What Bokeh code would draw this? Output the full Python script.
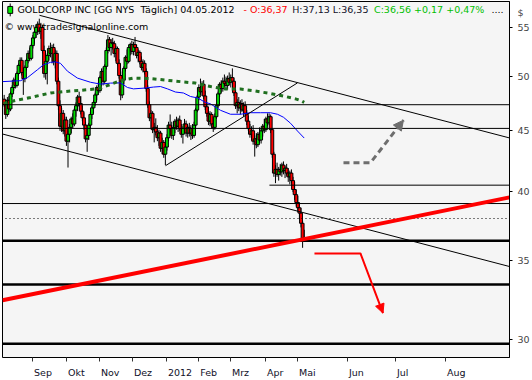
import math
from bokeh.plotting import figure
from bokeh.models import (Range1d, FixedTicker, CustomJSTickFormatter, Label, Arrow,
                          NormalHead, ColumnDataSource, AllLabels)
from bokeh.embed import file_html
from bokeh.resources import INLINE

# ---------------- data ----------------
# daily bars, index 0 = first visible bar (early Aug 2011), last = 04.05.2012
open_ = [47.85, 47.35, 46.45, 47.75, 46.95, 48.35, 48.95, 49.65, 49.15, 50.3,
         51.1, 51.6, 50.4, 49.8, 50.9, 51.6, 52.3, 51.8, 53.1, 53.9,
         54.5, 55.0, 55.35, 54.6, 55.0, 52.6, 50.3, 51.5, 52.1, 52.8,
         52.3, 52.9, 51.5, 52.3, 49.55, 47.25, 45.4, 46.55, 45.0, 45.95,
         44.1, 44.7, 45.3, 46.05, 45.6, 46.85, 47.25, 48.05, 47.45, 46.75,
         46.15, 45.5, 44.3, 44.6, 45.5, 46.45, 47.05, 47.55, 48.25, 48.95,
         48.65, 49.9, 50.5, 49.55, 51.0, 52.6, 53.7, 52.9, 53.4, 53.3,
         52.3, 52.8, 51.3, 50.1, 48.25, 49.65, 50.8, 51.9, 51.5, 52.9,
         53.2, 52.5, 53.2, 52.9, 52.1, 52.4, 51.5, 50.9, 51.3, 50.5,
         48.85, 47.35, 46.15, 46.55, 45.1, 45.3, 44.9, 44.4, 44.8, 43.5,
         44.0, 43.0, 43.6, 44.4, 45.5, 45.2, 44.6, 45.3, 45.85, 45.4,
         45.95, 45.2, 44.7, 45.2, 45.6, 44.8, 45.3, 44.8, 45.2, 44.6,
         45.5, 46.85, 48.05, 48.95, 48.55, 49.25, 48.15, 47.15, 46.55, 45.85,
         46.45, 45.6, 45.3, 46.25, 47.25, 48.35, 49.25, 48.85, 49.55, 49.35,
         49.15, 49.8, 49.45, 49.9, 49.55, 48.45, 47.25, 47.55, 47.05, 47.45,
         46.85, 47.25, 46.55, 45.85, 45.2, 44.7, 45.0, 44.1, 44.3, 43.8,
         44.7, 44.2, 45.0, 45.4, 45.1, 46.05, 45.7, 46.25, 45.1, 43.0,
         41.45, 41.75, 41.35, 41.75, 41.55, 42.1, 41.65, 41.85, 41.45, 41.15,
         41.45, 40.85, 40.15, 39.75, 39.15, 38.75, 38.35, 37.6, 36.37]
high_ = [48.25, 47.75, 48.05, 48.15, 48.55, 49.15, 49.9, 50.1, 50.5, 51.3,
         51.9, 51.9, 50.8, 51.1, 51.8, 52.6, 52.9, 53.3, 54.2, 54.8,
         55.35, 55.65, 55.95, 55.5, 55.3, 53.1, 51.8, 52.3, 53.1, 53.4,
         53.2, 53.3, 52.7, 52.6, 49.9, 47.75, 47.05, 46.85, 46.25, 46.25,
         45.0, 45.6, 46.25, 46.55, 47.05, 47.55, 48.25, 48.55, 48.15, 47.25,
         46.65, 45.8, 44.8, 45.7, 46.65, 47.25, 47.75, 48.45, 49.15, 49.45,
         50.1, 50.8, 50.9, 51.2, 52.9, 54.2, 54.0, 53.8, 53.9, 53.6,
         53.1, 53.0, 51.7, 50.5, 49.9, 51.0, 52.1, 52.7, 53.2, 53.4,
         53.6, 53.5, 54.0, 53.2, 52.7, 52.6, 52.0, 51.7, 51.6, 50.8,
         49.15, 47.65, 46.85, 46.75, 45.7, 46.1, 45.5, 45.1, 45.0, 44.4,
         44.2, 43.8, 44.7, 45.8, 46.45, 45.8, 45.5, 46.05, 46.25, 46.15,
         46.35, 45.6, 45.4, 46.05, 45.9, 45.5, 45.7, 45.5, 45.6, 45.8,
         47.05, 48.25, 49.25, 49.8, 49.55, 49.65, 48.65, 47.55, 47.15, 46.75,
         46.65, 46.0, 46.55, 47.45, 48.55, 49.45, 49.65, 49.9, 50.2, 50.0,
         50.1, 50.4, 50.2, 50.8, 49.9, 48.75, 47.85, 48.05, 47.75, 47.85,
         47.55, 47.65, 46.85, 46.35, 45.6, 45.4, 45.5, 44.6, 44.8, 44.9,
         45.3, 45.2, 45.6, 46.05, 46.25, 46.55, 46.55, 46.45, 45.2, 43.2,
         42.1, 42.3, 41.95, 42.2, 42.3, 42.4, 42.05, 42.2, 41.85, 41.65,
         41.75, 41.15, 40.75, 40.15, 39.65, 39.15, 38.75, 37.8, 37.13]
low_ = [47.15, 46.05, 46.25, 46.65, 46.75, 48.05, 48.65, 48.85, 48.95, 50.1,
        50.5, 50.1, 48.25, 49.45, 50.6, 51.3, 51.5, 51.6, 52.8, 53.3,
        53.9, 54.2, 54.3, 53.8, 52.3, 49.9, 49.7, 49.25, 51.6, 51.9,
        51.3, 51.1, 50.8, 49.25, 46.85, 45.0, 44.9, 44.7, 44.5, 43.7,
        41.9, 44.0, 44.8, 45.2, 45.4, 46.25, 46.75, 47.15, 46.45, 45.85,
        45.1, 44.0, 43.2, 44.2, 45.2, 46.05, 46.55, 47.25, 47.75, 48.25,
        48.45, 49.25, 49.15, 49.25, 50.7, 52.3, 52.5, 52.1, 52.7, 51.9,
        51.5, 51.1, 49.8, 47.75, 47.95, 49.25, 50.5, 51.2, 51.3, 52.1,
        52.2, 52.1, 52.6, 51.8, 51.4, 51.2, 50.6, 50.4, 50.2, 48.55,
        47.05, 45.85, 45.2, 44.8, 44.0, 44.6, 44.1, 43.7, 43.2, 43.0,
        42.7, 42.1, 43.3, 44.1, 44.9, 44.3, 44.2, 44.8, 45.1, 44.9,
        45.0, 44.4, 43.9, 44.8, 44.5, 44.4, 44.5, 44.2, 44.3, 44.4,
        45.3, 46.65, 47.75, 48.25, 48.15, 47.85, 46.85, 46.25, 45.5, 45.4,
        45.2, 44.9, 45.1, 46.05, 47.05, 48.05, 48.45, 48.55, 49.05, 48.85,
        48.75, 49.15, 48.95, 49.25, 48.15, 46.95, 46.55, 46.75, 46.45, 46.65,
        46.25, 46.35, 45.5, 45.0, 44.4, 44.2, 43.8, 42.8, 43.5, 43.6,
        44.0, 43.9, 44.5, 44.8, 44.9, 45.4, 45.5, 44.8, 42.7, 41.15,
        40.65, 41.15, 40.85, 41.25, 41.15, 41.35, 41.05, 41.25, 40.75, 40.55,
        40.65, 39.95, 39.35, 38.85, 38.45, 37.9, 37.3, 35.85, 36.35]
close_ = [47.35, 46.45, 47.75, 46.95, 48.35, 48.95, 49.65, 49.15, 50.3, 51.1,
          51.6, 50.4, 49.8, 50.9, 51.6, 52.3, 51.8, 53.1, 53.9, 54.5,
          55.0, 55.35, 54.6, 55.0, 52.6, 50.3, 51.5, 52.1, 52.8, 52.3,
          52.9, 51.5, 52.3, 49.55, 47.25, 45.4, 46.55, 45.0, 45.95, 44.1,
          44.7, 45.3, 46.05, 45.6, 46.85, 47.25, 48.05, 47.45, 46.75, 46.15,
          45.5, 44.3, 44.6, 45.5, 46.45, 47.05, 47.55, 48.25, 48.95, 48.65,
          49.9, 50.5, 49.55, 51.0, 52.6, 53.7, 52.9, 53.4, 53.3, 52.3,
          52.8, 51.3, 50.1, 48.25, 49.65, 50.8, 51.9, 51.5, 52.9, 53.2,
          52.5, 53.2, 52.9, 52.1, 52.4, 51.5, 50.9, 51.3, 50.5, 48.85,
          47.35, 46.15, 46.55, 45.1, 45.3, 44.9, 44.4, 44.8, 43.5, 44.0,
          43.0, 43.6, 44.4, 45.5, 45.2, 44.6, 45.3, 45.85, 45.4, 45.95,
          45.2, 44.7, 45.2, 45.6, 44.8, 45.3, 44.8, 45.2, 44.6, 45.5,
          46.85, 48.05, 48.95, 48.55, 49.25, 48.15, 47.15, 46.55, 45.85, 46.45,
          45.6, 45.3, 46.25, 47.25, 48.35, 49.25, 48.85, 49.55, 49.35, 49.15,
          49.8, 49.45, 49.9, 49.55, 48.45, 47.25, 47.55, 47.05, 47.45, 46.85,
          47.25, 46.55, 45.85, 45.2, 44.7, 45.0, 44.1, 44.3, 43.8, 44.7,
          44.2, 45.0, 45.4, 45.1, 46.05, 45.7, 46.25, 45.1, 43.0, 41.45,
          41.75, 41.35, 41.75, 41.55, 42.1, 41.65, 41.85, 41.45, 41.15, 41.45,
          40.85, 40.15, 39.75, 39.15, 38.75, 38.35, 37.6, 36.39, 36.56]

# moving averages (bar position, price)
blue_ma_x = [-1.05, 10.23, 14.61, 20.88, 24.64, 29.03, 32.16, 35.29, 39.68, 45.94,
             54.09, 60.35, 66.62, 72.88, 77.27, 81.03, 88.55, 93.56, 97.95, 102.33,
             107.35, 112.36, 116.75, 121.13, 126.15, 129.28, 135.55, 141.81, 148.08,
             154.34, 160.61, 166.87, 171.26, 175.02, 179.4, 183.79, 188.0]
blue_ma_y = [49.51, 49.60, 49.90, 50.67, 51.16, 51.40, 51.45, 51.30, 50.52, 49.85,
             49.45, 49.27, 49.37, 49.39, 48.95, 48.82, 48.90, 48.99, 49.04, 48.82,
             48.52, 48.43, 48.10, 47.97, 47.55, 47.42, 46.83, 46.47, 46.47,
             46.61, 46.61, 46.61, 46.47, 46.20, 45.67, 44.98, 44.37]
green_ma_x = [-0.42, 7.10, 16.49, 29.03, 41.56, 54.09, 60.35, 66.62, 72.88, 81.03,
              91.68, 101.07, 110.47, 119.87, 129.28, 138.67, 148.08, 157.48, 166.87,
              176.27, 182.53, 185.66, 188.0]
green_ma_y = [47.46, 47.74, 48.01, 48.43, 48.61, 48.76, 48.90, 49.23, 49.61, 49.85,
              49.80, 49.66, 49.51, 49.37, 49.04, 48.80, 48.80, 48.61, 48.38,
              48.10, 47.88, 47.74, 47.55]

# horizontal levels
levels_thin = [47.34, 45.21, 39.07]
levels_thick = [36.35, 33.39, 29.76]
levels_dotted = [37.95]
level_partial = [40.49]
level_partial_start = [166.2]

# trend lines (start bar, start price, end bar, end price)
trend_x0 = [22.13, -1.05, 101.08]
trend_y0 = [56.32, 44.72, 42.05]
trend_x1 = [316.64, 316.64, 183.79]
trend_y1 = [44.38, 34.57, 49.39]
support_x = [-1.05, 316.64]
support_y = [32.38, 39.54]

# scenario arrows
red_arrow_x = [194.43, 223.26, 237.36]
red_arrow_y = [35.46, 35.46, 31.58]
grey_arrow_x = [212.61, 229.53, 250.2]
grey_arrow_y = [42.29, 42.29, 45.94]

# axes
y_ticks = [30, 35, 40, 45, 50, 55]
y_unit_label = "$"
y_unit_pos = 56.6
month_ticks = [17.75, 39.05, 59.72, 80.4, 101.7, 121.75, 141.8, 163.7, 183.8, 215.1, 245.2, 276.5]
month_labels = ["Sep", "Okt", "Nov", "Dez", "2012", "Feb", "Mrz", "Apr", "Mai", "Jun", "Jul", "Aug"]

# ---------------- figure ----------------
X0, X1 = -1.05, 316.64
Y0, Y1 = 28.97, 57.85
FONT = "DejaVu Sans"
PX_PER_UNIT = 507.0 / (X1 - X0)


def sx(px):
    return X0 + (px - 2.0) / PX_PER_UNIT


def sy(py):
    return math.exp(math.log(Y1) - (py - 1.0) / 360.0 * (math.log(Y1) - math.log(Y0)))


p = figure(width=532, height=380, x_range=Range1d(X0, X1), y_range=Range1d(Y0, Y1),
           y_axis_type="log", y_axis_location="right", output_backend="svg",
           toolbar_location=None, min_border_left=2, min_border_top=1,
           min_border_right=23, min_border_bottom=19)
p.background_fill_color = "#f5f5f5"
p.outline_line_color = "black"
p.outline_line_width = 1
p.xgrid.visible = False
p.ygrid.visible = False

# right price axis: tick marks as minor ticks, labels on major ticks (+ unit label on top)
ya = p.yaxis[0]
ya.ticker = FixedTicker(ticks=y_ticks + [y_unit_pos], minor_ticks=y_ticks)
ya.formatter = CustomJSTickFormatter(
    code="if (Math.abs(tick - %s) < 0.01) return '%s'; return tick.toFixed(0);"
         % (y_unit_pos, y_unit_label))
ya.major_label_policy = AllLabels()
ya.major_tick_out = 0
ya.major_tick_line_color = None
ya.minor_tick_out = 3
ya.axis_line_color = "black"
ya.major_label_standoff = 5
ya.major_label_text_font = FONT
ya.major_label_text_font_size = "9.5px"

# time axis: tick marks at month starts (minor), labels just to the right of them
label_px_width = [17.9, 16.7, 18.5, 18.1, 24.2, 17.3, 17.1, 16.4, 16.7, 14.8, 11.5, 18.6]
label_centers = [round(t + (1.5 + w / 2.0) / PX_PER_UNIT, 3)
                 for t, w in zip(month_ticks, label_px_width)]
xa = p.xaxis[0]
xa.ticker = FixedTicker(ticks=label_centers, minor_ticks=month_ticks)
xa.major_label_overrides = {c: lab for c, lab in zip(label_centers, month_labels)}
xa.major_tick_out = 0
xa.major_tick_in = 0
xa.major_tick_line_color = None
xa.minor_tick_out = 4
xa.minor_tick_in = 0
xa.minor_tick_line_color = "#333333"
xa.axis_line_color = None
xa.major_label_standoff = 5
xa.major_label_text_font = FONT
xa.major_label_text_font_size = "9.5px"
xa.major_label_text_color = "#101028"


def add_text(px, py, txt, color, size="9.5px"):
    p.add_layout(Label(x=sx(px), y=sy(py), text=txt, text_color=color, text_font=FONT,
                       text_font_size=size, text_align="left", text_baseline="middle",
                       level="underlay"))


# header
add_text(17, 9.5, "GOLDCORP INC [GG NYS\u00a0 Täglich] 04.05.2012", "black")
add_text(243, 9.5, "- O:36,37", "#ff0000")
add_text(291.7, 9.5, "H:37,13 L:36,35", "#101028")
add_text(373.5, 9.5, "C:36,56 +0,17 +0,47%", "#00c000")
add_text(491, 9.5, "....", "black")
add_text(4, 26, "© www.tradesignalonline.com", "black")

# header icon
p.segment(x0=[sx(9.7)], y0=[sy(3)], x1=[sx(9.7)], y1=[sy(16)], color="black", line_width=1)
p.quad(left=[sx(7.3)], right=[sx(12.2)], top=[sy(6)], bottom=[sy(13)],
       fill_color="#00ee00", line_color="black", line_width=1)

# candles
idx = list(range(len(close_)))
src = ColumnDataSource(dict(
    x=idx, h=high_, l=low_,
    top=[max(o, c) for o, c in zip(open_, close_)],
    bottom=[min(o, c) for o, c in zip(open_, close_)],
    color=["#00dd00" if c >= o else "#ff0000" for o, c in zip(open_, close_)],
))
p.segment(x0="x", y0="l", x1="x", y1="h", source=src, color="black", line_width=1)
p.vbar(x="x", width=1.8, top="top", bottom="bottom", source=src,
       fill_color="color", line_color="black", line_width=1)

# moving averages
p.line(blue_ma_x, blue_ma_y, color="#0000ff", line_width=1)
p.line(green_ma_x, green_ma_y, color="#1f6f1f", line_width=3, line_dash="4 4")

# horizontal levels
p.segment(x0=[X0] * len(levels_thin), y0=levels_thin, x1=[X1] * len(levels_thin),
          y1=levels_thin, color="black", line_width=1)
p.segment(x0=level_partial_start, y0=level_partial, x1=[X1], y1=level_partial,
          color="black", line_width=1)
p.segment(x0=[sx(5)] * len(levels_dotted), y0=levels_dotted, x1=[X1] * len(levels_dotted),
          y1=levels_dotted, color="black", line_width=1, line_dash="1 3")
p.segment(x0=[X0] * len(levels_thick), y0=levels_thick, x1=[X1] * len(levels_thick),
          y1=levels_thick, color="black", line_width=2.5)

# trend lines
p.segment(x0=trend_x0, y0=trend_y0, x1=trend_x1, y1=trend_y1, color="black", line_width=1)
p.line(support_x, support_y, color="#ff0000", line_width=4)

# arrows
p.line(red_arrow_x, red_arrow_y, color="#ff0000", line_width=2)
p.add_layout(Arrow(end=NormalHead(size=9, fill_color="#ff0000", line_color="#ff0000"),
                   x_start=red_arrow_x[-2], y_start=red_arrow_y[-2],
                   x_end=red_arrow_x[-1], y_end=red_arrow_y[-1], line_alpha=0))
p.line(grey_arrow_x, grey_arrow_y, color="#6e6e6e", line_width=3, line_dash="6 4")
p.add_layout(Arrow(end=NormalHead(size=10, fill_color="#6e6e6e", line_color="#6e6e6e"),
                   x_start=grey_arrow_x[-2], y_start=grey_arrow_y[-2],
                   x_end=grey_arrow_x[-1], y_end=grey_arrow_y[-1], line_alpha=0))

open("out.html", "w").write(file_html(p, INLINE))
